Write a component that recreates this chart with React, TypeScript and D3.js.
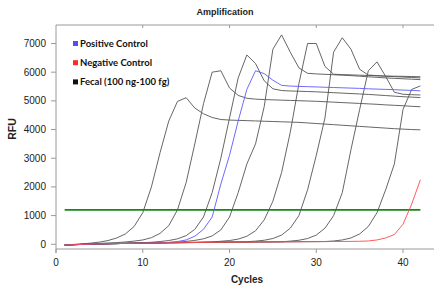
import React from "react";
import * as d3 from "d3";

const cycles = d3.range(1, 43);

// fecal dilution series (100 ng -> 100 fg), RFU per cycle
const fecal100ng = [-25, -5, 15, 40, 75, 130, 220, 360, 620, 1100, 2000, 3200, 4300, 4980, 5110, 4750, 4550, 4420, 4350, 4330, 4320, 4310, 4300, 4290, 4280, 4270, 4260, 4250, 4230, 4210, 4190, 4170, 4150, 4130, 4110, 4090, 4070, 4050, 4030, 4015, 4000, 3990];
const fecal10ng = [-25, -12, 0, 15, 30, 45, 60, 80, 110, 150, 230, 380, 650, 1200, 2150, 3500, 4900, 6000, 6050, 5450, 5190, 5090, 5060, 5045, 5035, 5025, 5015, 5005, 4995, 4985, 4970, 4955, 4940, 4925, 4910, 4895, 4880, 4860, 4845, 4830, 4810, 4795];
const fecal1ng = [-25, -15, -5, 5, 14, 22, 30, 38, 46, 55, 70, 95, 130, 190, 300, 520, 950, 1800, 3000, 4400, 5800, 6600, 6300, 5700, 5420, 5360, 5345, 5335, 5325, 5315, 5300, 5285, 5270, 5255, 5240, 5225, 5205, 5185, 5165, 5145, 5130, 5115];
const fecal100pg = [-25, -15, -5, 5, 12, 18, 24, 30, 36, 42, 48, 55, 62, 72, 100, 135, 190, 290, 500, 950, 1800, 2800, 3500, 4800, 6800, 7300, 6700, 6150, 5960, 5940, 5925, 5910, 5895, 5880, 5860, 5840, 5820, 5800, 5785, 5770, 5755, 5740];
const fecal10pg = [-25, -15, -5, 5, 12, 18, 24, 30, 35, 40, 45, 50, 55, 60, 65, 70, 76, 82, 105, 130, 180, 280, 470, 850, 1500, 2500, 3900, 5600, 7000, 7000, 6200, 5930, 5915, 5905, 5895, 5885, 5875, 5865, 5860, 5855, 5848, 5840];
const fecal1pg = [-25, -15, -5, 5, 12, 18, 24, 30, 35, 40, 44, 48, 52, 56, 60, 64, 68, 72, 76, 80, 84, 88, 110, 140, 200, 320, 560, 1000, 1900, 3100, 4400, 6700, 7200, 6800, 6100, 5900, 5880, 5860, 5845, 5830, 5815, 5800];
const fecal100fg = [-25, -15, -5, 5, 12, 18, 24, 30, 35, 40, 44, 48, 52, 55, 58, 61, 64, 67, 70, 72, 74, 76, 78, 80, 82, 85, 110, 140, 200, 320, 560, 1000, 1800, 3300, 4700, 6050, 6360, 5850, 5300, 5230, 5215, 5205];
const fecalLow = [-25, -15, -5, 5, 12, 18, 24, 30, 35, 40, 44, 48, 52, 55, 58, 61, 64, 67, 70, 72, 74, 76, 78, 80, 82, 84, 86, 88, 90, 92, 95, 115, 150, 220, 360, 620, 1100, 1900, 2800, 4700, 5400, 5520];
const positive = [-25, -15, -5, 5, 12, 18, 24, 30, 35, 40, 45, 52, 65, 95, 150, 280, 520, 950, 2100, 3100, 4300, 5400, 6050, 5950, 5720, 5540, 5515, 5505, 5495, 5485, 5475, 5465, 5455, 5445, 5435, 5420, 5410, 5400, 5390, 5375, 5365, 5350];
const negative = [-25, -15, -5, 5, 12, 18, 24, 30, 35, 40, 44, 48, 52, 55, 58, 61, 64, 67, 70, 72, 74, 76, 78, 80, 82, 84, 86, 88, 90, 92, 94, 96, 98, 100, 105, 115, 150, 220, 340, 700, 1400, 2250];

const fecalSeries = [fecal100ng, fecal10ng, fecal1ng, fecal100pg, fecal10pg, fecal1pg, fecal100fg, fecalLow];
const threshold = 1200;
const thresholdRange = [1, 42];

const xTicks = [0, 10, 20, 30, 40];
const yTicks = [0, 1000, 2000, 3000, 4000, 5000, 6000, 7000];

const legendItems = [
  { label: "Positive Control", color: "#4f4fff" },
  { label: "Negative Control", color: "#ff2a2a" },
  { label: "Fecal (100 ng-100 fg)", color: "#111111" },
];

const W = 434;
const H = 286;

export default function App() {
  const x = d3.scaleLinear().domain([0, 45]).range([56, 446.4]);
  const y = d3.scaleLinear().domain([-165, 7645]).range([249, 25]);

  const line = d3
    .line<number>()
    .x((_, i) => x(cycles[i]))
    .y((d) => y(d));

  const axisColor = "#9a9a9a";

  return (
    <svg
      width={W}
      height={H}
      style={{ position: "absolute", left: 0, top: 0, background: "#fff" }}
      fontFamily="'Liberation Sans', Arial, sans-serif"
    >
      {/* title */}
      <text x={225} y={15} textAnchor="middle" fontSize={9} fontWeight="bold" fill="#222">
        Amplification
      </text>

      {/* frame */}
      <line x1={56} x2={W} y1={25} y2={25} stroke={axisColor} />
      <line x1={56} x2={W} y1={249} y2={249} stroke={axisColor} />
      <line x1={56} x2={56} y1={25} y2={253} stroke={axisColor} />

      {xTicks.map((t) => (
        <g key={"xt" + t}>
          <line x1={x(t)} x2={x(t)} y1={249} y2={253} stroke={axisColor} />
          {t > 0 && <line x1={x(t)} x2={x(t)} y1={25} y2={28} stroke={axisColor} />}
          <text x={x(t)} y={266} textAnchor="middle" fontSize={10} fill="#222">
            {t}
          </text>
        </g>
      ))}

      {yTicks.map((t) => (
        <g key={"yt" + t}>
          <line x1={51} x2={56} y1={y(t)} y2={y(t)} stroke={axisColor} />
          <text x={46} y={y(t)} dy="0.35em" textAnchor="end" fontSize={10} fill="#222">
            {t}
          </text>
        </g>
      ))}

      <text x={247} y={283} textAnchor="middle" fontSize={10} fontWeight="bold" fill="#222">
        Cycles
      </text>
      <text
        transform="translate(16,129) rotate(-90)"
        textAnchor="middle"
        fontSize={10.5}
        fontWeight="bold"
        fill="#222"
      >
        RFU
      </text>

      {/* threshold */}
      <line
        x1={x(thresholdRange[0])}
        x2={x(thresholdRange[1])}
        y1={y(threshold)}
        y2={y(threshold)}
        stroke="#138a13"
        strokeWidth={1.6}
      />

      {/* curves */}
      {fecalSeries.map((s, i) => (
        <path key={"f" + i} d={line(s) ?? ""} fill="none" stroke="#555" strokeWidth={0.9} />
      ))}
      <path d={line(positive) ?? ""} fill="none" stroke="#5a5aff" strokeWidth={0.9} />
      <path d={line(negative) ?? ""} fill="none" stroke="#ff4a4a" strokeWidth={0.9} />

      {/* legend */}
      {legendItems.map((d, i) => (
        <g key={d.label} transform={`translate(73,${43.5 + i * 19.2})`}>
          <rect x={0} y={-2.5} width={5} height={5} fill={d.color} />
          <text x={7} y={0} dy="0.35em" fontSize={9.5} fontWeight="bold" fontFamily="Lato, sans-serif" fill="#111">
            {d.label}
          </text>
        </g>
      ))}
    </svg>
  );
}
